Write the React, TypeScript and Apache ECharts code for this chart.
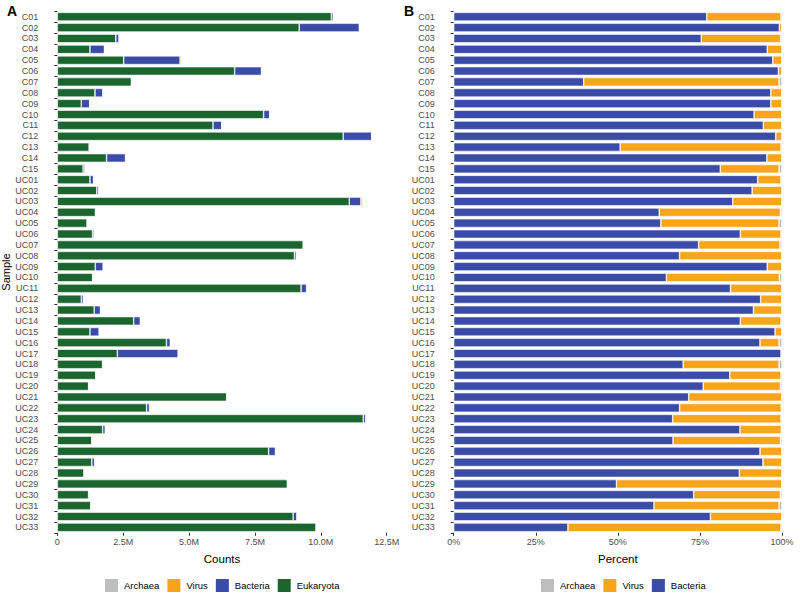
import React, { useEffect, useRef } from "react";
import * as echarts from "echarts";

// Sample identifiers, top to bottom
const samples = [
  "C01", "C02", "C03", "C04", "C05", "C06", "C07", "C08", "C09", "C10",
  "C11", "C12", "C13", "C14", "C15",
  "UC01", "UC02", "UC03", "UC04", "UC05", "UC06", "UC07", "UC08", "UC09", "UC10",
  "UC11", "UC12", "UC13", "UC14", "UC15", "UC16", "UC17", "UC18", "UC19", "UC20",
  "UC21", "UC22", "UC23", "UC24", "UC25", "UC26", "UC27", "UC28", "UC29", "UC30",
  "UC31", "UC32", "UC33",
];

// Read counts per kingdom, in millions
const eukaryotaM = [
  10.40, 9.18, 2.22, 1.24, 2.52, 6.73, 2.81, 1.43, 0.91, 7.83,
  5.91, 10.85, 1.21, 1.87, 0.98,
  1.24, 1.50, 11.08, 1.45, 1.13, 1.34, 9.33, 9.00, 1.44, 1.34,
  9.25, 0.91, 1.40, 2.90, 1.24, 4.14, 2.28, 1.72, 1.46, 1.19,
  6.43, 3.39, 11.61, 1.72, 1.31, 8.02, 1.31, 1.01, 8.73, 1.19,
  1.27, 8.95, 9.82,
];
const bacteriaM = [
  0.07, 2.28, 0.12, 0.55, 2.14, 1.02, 0.015, 0.30, 0.32, 0.23,
  0.33, 1.08, 0.012, 0.72, 0.07,
  0.14, 0.08, 0.44, 0.02, 0.02, 0.06, 0.02, 0.07, 0.30, 0.02,
  0.21, 0.08, 0.24, 0.25, 0.35, 0.15, 2.31, 0.02, 0.02, 0.02,
  0.02, 0.11, 0.09, 0.10, 0.02, 0.26, 0.11, 0.02, 0.02, 0.02,
  0.02, 0.14, 0.01,
];
const virusM = [
  0.02, 0.02, 0.04, 0.026, 0.06, 0.011, 0.022, 0.011, 0.011, 0.021,
  0.02, 0.02, 0.012, 0.035, 0.015,
  0.011, 0.008, 0.078, 0.012, 0.011, 0.009, 0.007, 0.032, 0.014, 0.011,
  0.039, 0.006, 0.023, 0.036, 0.008, 0.009, 0.005, 0.008, 0.004, 0.006,
  0.008, 0.05, 0.045, 0.015, 0.01, 0.019, 0.007, 0.003, 0.02, 0.007,
  0.012, 0.04, 0.019,
];
const archaeaM = [
  0.001, 0.001, 0.001, 0.001, 0.001, 0.001, 0.001, 0.001, 0.001, 0.001,
  0.001, 0.001, 0.001, 0.001, 0.001,
  0.001, 0.001, 0.001, 0.001, 0.001, 0.001, 0.001, 0.001, 0.001, 0.001,
  0.001, 0.001, 0.001, 0.001, 0.001, 0.001, 0.001, 0.001, 0.001, 0.001,
  0.001, 0.001, 0.001, 0.001, 0.001, 0.001, 0.001, 0.001, 0.001, 0.001,
  0.001, 0.001, 0.001,
];

// Share of prokaryote + viral reads, in percent
const bacteriaPct = [
  77.1, 99.2, 75.4, 95.5, 97.2, 98.9, 39.6, 96.6, 96.6, 91.5,
  94.3, 98.1, 50.7, 95.4, 81.2,
  92.6, 90.9, 85.0, 62.6, 63.1, 87.3, 74.6, 68.8, 95.5, 64.8,
  84.3, 93.5, 91.3, 87.3, 97.9, 93.3, 99.7, 69.9, 84.1, 76.0,
  71.6, 68.8, 66.7, 87.2, 66.8, 93.3, 94.2, 87.0, 49.6, 73.1,
  61.0, 78.2, 34.8,
];
const virusPct = [
  22.6, 0.8, 24.2, 4.5, 2.8, 1.1, 59.5, 3.4, 3.4, 8.5,
  5.7, 1.9, 49.0, 4.6, 17.9,
  7.1, 9.1, 15.0, 36.9, 36.0, 12.4, 24.8, 31.2, 4.5, 34.4,
  15.7, 6.5, 8.7, 12.4, 2.1, 5.8, 0.3, 29.2, 15.6, 23.5,
  28.4, 31.0, 33.0, 12.6, 32.7, 6.7, 5.8, 13.0, 50.4, 26.4,
  38.1, 21.8, 64.9,
];
const archaeaPct = [
  0.3, 0.0, 0.4, 0.0, 0.0, 0.0, 0.9, 0.0, 0.0, 0.0,
  0.0, 0.0, 0.3, 0.0, 0.9,
  0.3, 0.0, 0.0, 0.5, 0.9, 0.3, 0.6, 0.0, 0.0, 0.8,
  0.0, 0.0, 0.0, 0.3, 0.0, 0.9, 0.0, 0.9, 0.3, 0.5,
  0.0, 0.2, 0.3, 0.2, 0.5, 0.0, 0.0, 0.0, 0.0, 0.5,
  0.9, 0.0, 0.3,
];

const countTicks = [0, 2.5, 5, 7.5, 10, 12.5];
const pctTicks = [0, 25, 50, 75, 100];

const COLORS = {
  Archaea: "#bebebe",
  Virus: "#f8a51b",
  Bacteria: "#3a4ba8",
  Eukaryota: "#1b652f",
};

const FONT = "Liberation Sans, Arial, sans-serif";
const LABEL = "#4d4d4d";

export default function App() {
  const ref = useRef<HTMLDivElement>(null);

  useEffect(() => {
    document.body.style.margin = "0";
    if (!ref.current) return;
    const chart = echarts.init(ref.current, undefined, { renderer: "svg" });

    const gridTop = 11.3;
    const gridHeight = 521.5;

    const catAxis = (gridIndex: number, withName: boolean) => ({
      type: "category" as const,
      gridIndex,
      data: samples,
      inverse: true,
      offset: 16,
      axisLine: { show: false },
      axisTick: { show: true, length: 3, interval: 0, lineStyle: { color: "#333", width: 1 } },
      axisLabel: { color: LABEL, fontSize: 9, fontFamily: FONT, margin: 3, interval: 0 },
      name: withName ? "Sample" : "",
      nameLocation: "middle" as const,
      nameRotate: 90,
      nameGap: 30,
      nameTextStyle: { color: "#000", fontSize: 11, fontFamily: FONT },
    });

    const barBase = {
      type: "bar" as const,
      barCategoryGap: "20%",
      itemStyle: { borderColor: "#ffffff", borderWidth: 0.6 },
    };

    const legendBase = {
      top: 577,
      padding: 0,
      icon: "rect",
      itemWidth: 15,
      itemHeight: 15,
      itemGap: 6,
      textStyle: { color: "#000", fontSize: 9.5, fontFamily: FONT },
      selectedMode: false,
    };

    chart.setOption({
      animation: false,
      backgroundColor: "#ffffff",
      grid: [
        { left: 57.3, width: 329.4, top: gridTop, height: gridHeight, outerBoundsMode: "none", containLabel: false },
        { left: 453.7, width: 328.3, top: gridTop, height: gridHeight, outerBoundsMode: "none", containLabel: false },
      ],
      xAxis: [
        {
          type: "value",
          gridIndex: 0,
          min: countTicks[0],
          max: countTicks[countTicks.length - 1],
          interval: 2.5,
          splitLine: { show: false },
          axisLine: { show: false },
          axisTick: { show: true, length: 3, lineStyle: { color: "#333" } },
          axisLabel: {
            color: LABEL,
            fontSize: 9,
            fontFamily: FONT,
            margin: 5,
            formatter: (v: number) => (v === 0 ? "0" : `${v.toFixed(1)}M`),
          },
          name: "Counts",
          nameLocation: "middle",
          nameGap: 20,
          nameTextStyle: { color: "#000", fontSize: 11.5, fontFamily: FONT },
        },
        {
          type: "value",
          gridIndex: 1,
          min: pctTicks[0],
          max: pctTicks[pctTicks.length - 1],
          interval: 25,
          splitLine: { show: false },
          axisLine: { show: false },
          axisTick: { show: true, length: 3, lineStyle: { color: "#333" } },
          axisLabel: {
            color: LABEL,
            fontSize: 9,
            fontFamily: FONT,
            margin: 5,
            formatter: (v: number) => `${v}%`,
          },
          name: "Percent",
          nameLocation: "middle",
          nameGap: 20,
          nameTextStyle: { color: "#000", fontSize: 11.5, fontFamily: FONT },
        },
      ],
      yAxis: [catAxis(0, true), catAxis(1, false)],
      legend: [
        { ...legendBase, left: 103, data: ["Archaea", "Virus", "Bacteria", "Eukaryota"] },
        { ...legendBase, left: 539, data: ["Archaea", "Virus", "Bacteria"] },
      ],
      graphic: [
        {
          type: "text",
          left: 7,
          top: 4,
          style: { text: "A", fontSize: 14, fontWeight: "bold", fontFamily: FONT, fill: "#000" },
        },
        {
          type: "text",
          left: 404,
          top: 4,
          style: { text: "B", fontSize: 14, fontWeight: "bold", fontFamily: FONT, fill: "#000" },
        },
      ],
      series: [
        { ...barBase, name: "Eukaryota", stack: "A", xAxisIndex: 0, yAxisIndex: 0, data: eukaryotaM, color: COLORS.Eukaryota, itemStyle: { ...barBase.itemStyle, color: COLORS.Eukaryota } },
        { ...barBase, name: "Bacteria", stack: "A", xAxisIndex: 0, yAxisIndex: 0, data: bacteriaM, color: COLORS.Bacteria, itemStyle: { ...barBase.itemStyle, color: COLORS.Bacteria } },
        { ...barBase, name: "Virus", stack: "A", xAxisIndex: 0, yAxisIndex: 0, data: virusM, color: COLORS.Virus, itemStyle: { ...barBase.itemStyle, color: COLORS.Virus } },
        { ...barBase, name: "Archaea", stack: "A", xAxisIndex: 0, yAxisIndex: 0, data: archaeaM, color: COLORS.Archaea, itemStyle: { ...barBase.itemStyle, color: COLORS.Archaea } },
        { ...barBase, name: "Bacteria", stack: "B", xAxisIndex: 1, yAxisIndex: 1, data: bacteriaPct, color: COLORS.Bacteria, itemStyle: { ...barBase.itemStyle, color: COLORS.Bacteria } },
        { ...barBase, name: "Virus", stack: "B", xAxisIndex: 1, yAxisIndex: 1, data: virusPct, color: COLORS.Virus, itemStyle: { ...barBase.itemStyle, color: COLORS.Virus } },
        { ...barBase, name: "Archaea", stack: "B", xAxisIndex: 1, yAxisIndex: 1, data: archaeaPct, color: COLORS.Archaea, itemStyle: { ...barBase.itemStyle, color: COLORS.Archaea } },
      ],
    });

    return () => chart.dispose();
  }, []);

  return <div ref={ref} style={{ width: 800, height: 600 }} />;
}
